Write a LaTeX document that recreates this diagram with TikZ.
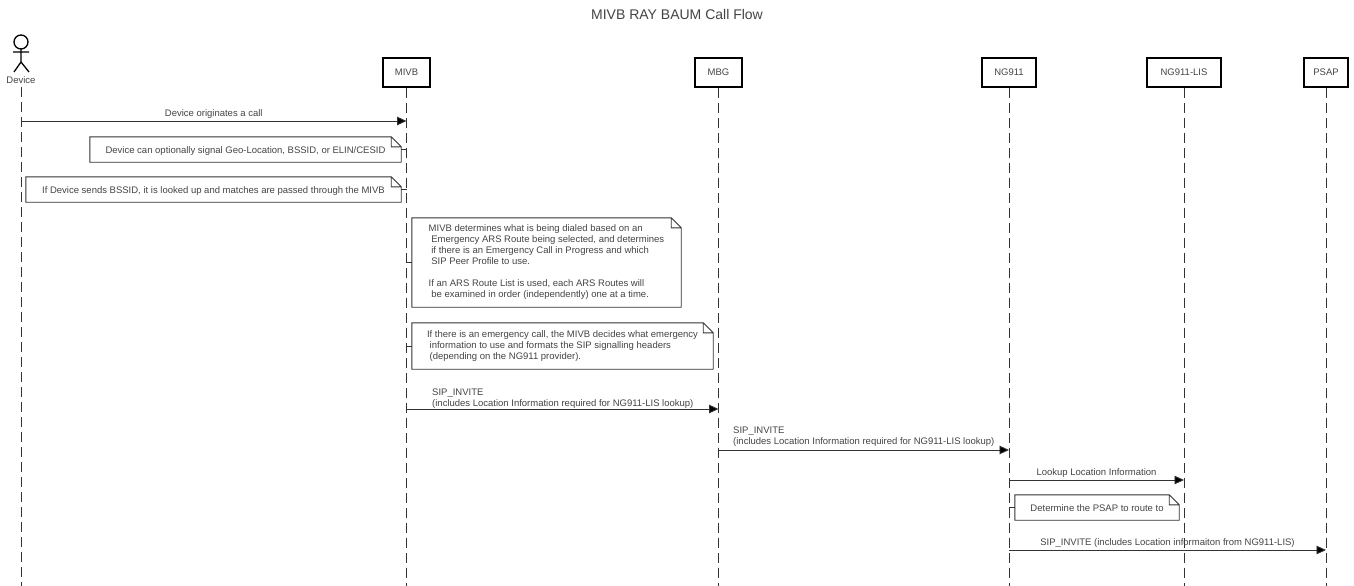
\documentclass[tikz,border=0pt]{standalone}
\usepackage{fontspec}
\setmainfont{Liberation Sans}
\usepackage{xcolor}
\usetikzlibrary{positioning, arrows.meta}

\definecolor{inkgray}{HTML}{444444}
\definecolor{linegray}{HTML}{333333}

\tikzset{
  every node/.style={text=inkgray, font=\fontsize{9.5}{11}\selectfont},
  party/.style={draw=black, line width=1.2pt, minimum height=29pt, inner sep=0pt, fill=white},
  lifeline/.style={draw=linegray, line width=0.9pt, dash pattern=on 10pt off 5pt},
  msg/.style={draw=linegray, line width=0.9pt, -{Triangle[length=9.5pt,width=8.5pt,fill=black]}},
  note/.style={align=left, inner sep=0pt},
  noteone/.style={note, text height=8.5pt, text depth=0pt},
  noteline/.style={draw=linegray, line width=0.9pt},
}

\begin{document}
\begin{tikzpicture}[x=1pt,y=-1pt]
    \useasboundingbox (0,0) rectangle (1354,586);
    \fill[white] (0,0) rectangle (1354,586);

    \node[font=\fontsize{14}{16}\selectfont] (title) at (677,14) {MIVB RAY BAUM Call Flow};

    % parties
    \node (Device) at (21,80) {Device};
    \node[party, minimum width=47pt] (MIVB) at (406.5,72.5) {MIVB};
    \node[party, minimum width=47pt] (MBG) at (718.5,72.5) {MBG};
    \node[party, minimum width=54pt] (NG911) at (1009,72.5) {NG911};
    \node[party, minimum width=74pt] (LIS) at (1184,72.5) {NG911-LIS};
    \node[party, minimum width=44pt] (PSAP) at (1326,72.5) {PSAP};
    \coordinate (bottom) at (0,586);

    % stick figure
    \draw[line width=1.3pt] (21,42) circle (7pt);
    \draw[line width=1.3pt] (21,49) -- (21,62) (13,52) -- (29,52) (14,72) -- (21,62) -- (29,72);

    % lifelines
    \foreach \n in {Device,MIVB,MBG,NG911,LIS,PSAP}
        \draw[lifeline] (\n.south) -- (\n.south |- bottom);

    % notes
    \node[noteone, minimum width=311pt, minimum height=25pt] (noteGeo) at (245.5,149.5)
        {Device can optionally signal Geo-Location, BSSID, or ELIN/CESID};
    \node[noteone, minimum width=375pt, minimum height=25pt] (noteBssid) at (213.5,189.5)
        {If Device sends BSSID, it is looked up and matches are passed through the MIVB};
    \node[note, minimum width=269pt, minimum height=89pt] (noteArs) at (546.5,262.5)
        {MIVB determines what is being dialed based on an\\
         \ Emergency ARS Route being selected, and determines\\
         \ if there is an Emergency Call in Progress and which\\
         \ SIP Peer Profile to use.\\[11pt]
         If an ARS Route List is used, each ARS Routes will\\
         \ be examined in order (independently) one at a time.};
    \node[note, minimum width=301pt, minimum height=46pt] (noteHdr) at (562.5,346)
        {If there is an emergency call, the MIVB decides what emergency\\
         \ information to use and formats the SIP signalling headers\\
         \ (depending on the NG911 provider).};
    \node[noteone, minimum width=164pt, minimum height=25pt] (notePsap) at (1097,507.5)
        {Determine the PSAP to route to};

    \foreach \n in {noteGeo,noteBssid,noteArs,noteHdr,notePsap}
        \draw[noteline] (\n.north west) -- ([xshift=-10pt]\n.north east) -- ([yshift=-10pt]\n.north east)
            -- (\n.south east) -- (\n.south west) -- cycle
            ([xshift=-10pt]\n.north east) -- ([xshift=-10pt,yshift=-10pt]\n.north east) -- ([yshift=-10pt]\n.north east);

    \draw[noteline] (noteGeo.east) -- (noteGeo.east -| MIVB);
    \draw[noteline] (noteBssid.east) -- (noteBssid.east -| MIVB);
    \draw[noteline] (noteArs.west) -- (noteArs.west -| MIVB);
    \draw[noteline] (noteHdr.west) -- (noteHdr.west -| MIVB);
    \draw[noteline] (notePsap.west) -- (notePsap.west -| NG911);

    % messages
    \coordinate (callA) at (21,121);
    \coordinate (inviteA) at (406.5,409);
    \coordinate (inviteB) at (718.5,450);
    \coordinate (lookupA) at (1009,480);
    \coordinate (inviteC) at (1009,550);

    \draw[msg] (callA) -- (callA -| MIVB) node[midway, above=-1pt] (lblCall) {Device originates a call};
    \draw[msg] (inviteA) -- (inviteA -| MBG);
    \draw[msg] (inviteB) -- (inviteB -| NG911);
    \draw[msg] (lookupA) -- (lookupA -| LIS) node[midway, above=-1pt] (lblLookup) {Lookup Location Information};
    \draw[msg] (inviteC) -- (inviteC -| PSAP) node[midway, above=-1pt] (lblInviteC) {SIP\_INVITE (includes Location informaiton from NG911-LIS)};

    \node[note, anchor=south west] (lblInviteA) at (432,409)
        {SIP\_INVITE\\(includes Location Information required for NG911-LIS lookup)};
    \node[note, anchor=south west] (lblInviteB) at (733,447)
        {SIP\_INVITE\\(includes Location Information required for NG911-LIS lookup)};
\end{tikzpicture}
\end{document}
